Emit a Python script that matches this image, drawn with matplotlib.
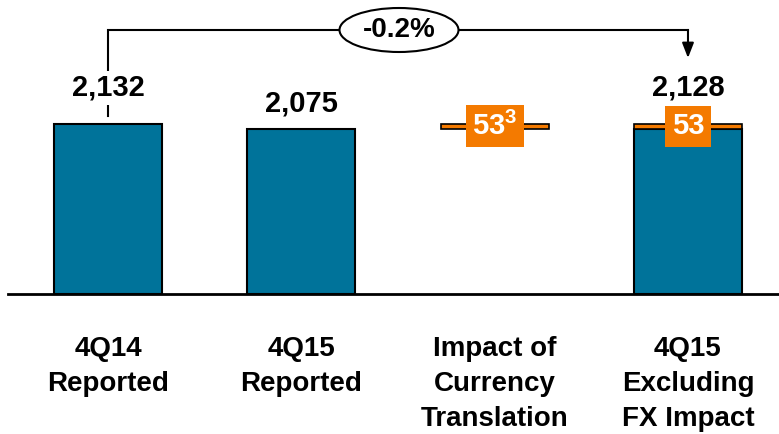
import matplotlib
matplotlib.use("Agg")
import matplotlib.pyplot as plt
from matplotlib.patches import Ellipse
from matplotlib import font_manager

names = {f.name for f in font_manager.fontManager.ttflist}
narrow = 'Liberation Sans Narrow' if 'Liberation Sans Narrow' in names else 'Liberation Sans'

plt.rcParams['mathtext.fontset'] = 'custom'
plt.rcParams['mathtext.bf'] = 'Liberation Sans:bold'
plt.rcParams['mathtext.rm'] = 'Liberation Sans:bold'

categories = ["4Q14\nReported", "4Q15\nReported", "Impact of\nCurrency\nTranslation", "4Q15\nExcluding\nFX Impact"]
base_values = [2132, 2075, 2075, 2075]
fx_impact = 53
total_labels = ["2,132", "2,075", None, "2,128"]
change_label = "-0.2%"

BLUE = "#00739A"
ORANGE = "#F47A00"

W, H = 779, 434
fig = plt.figure(figsize=(W / 100, H / 100), dpi=100)
ax = fig.add_axes([8 / W, 140 / H, 771 / W, 294 / H])
pxu = 170 / 2132.0
ax.set_ylim(0, 294 / pxu)
ax.set_xlim(-100 / 193.33, 671 / 193.33)

x = [0, 1, 2, 3]
bw = 108 / 193.33
# blue bars
ax.bar([0, 1, 3], [base_values[0], base_values[1], base_values[3]], width=bw,
       color=BLUE, edgecolor="black", linewidth=1.5, zorder=2)
# fx impact floating bars
ax.bar([2, 3], [fx_impact, fx_impact], bottom=[base_values[2], base_values[3]], width=bw,
       color=ORANGE, edgecolor="black", linewidth=1.2, zorder=3)

for s in ["top", "right", "left"]:
    ax.spines[s].set_visible(False)
ax.spines["bottom"].set_linewidth(2)
ax.set_yticks([])
ax.set_xticks(x)
ax.set_xticklabels(categories, fontsize=20, fontweight="bold", family=narrow, linespacing=1.45)
ax.tick_params(axis="x", length=0, pad=30)

label_y = [88, 103, None, 88]
for i in range(4):
    if total_labels[i]:
        yv = (294 - label_y[i]) / pxu
        ax.text(x[i], yv, total_labels[i], ha="center", va="center", fontsize=21,
                fontweight="bold", family="Liberation Sans", zorder=6,
                bbox=dict(boxstyle="square,pad=0.1", fc="white", ec="none"))

# orange labels
mid = base_values[2] + fx_impact / 2
ax.text(2, mid, r"$\mathbf{53^{3}}$", ha="center", va="center", fontsize=21, color="white",
        zorder=7, bbox=dict(boxstyle="square,pad=0.22", fc=ORANGE, ec="none"))
ax.text(3, mid, "53", ha="center", va="center", fontsize=21, color="white", fontweight="bold",
        family="Liberation Sans", zorder=7,
        bbox=dict(boxstyle="square,pad=0.22", fc=ORANGE, ec="none"))

# bracket
yb = (294 - 30) / pxu
ax.plot([0, 0, 3, 3], [(294 - 116) / pxu, yb, yb, yb], color="black", lw=1.5,
        clip_on=False, zorder=4, solid_joinstyle="miter")
ax.annotate("", xy=(3, (294 - 58) / pxu), xytext=(3, yb + 1),
            arrowprops=dict(arrowstyle="-|>,head_width=0.35,head_length=0.9", color="black", lw=1.5,
                            shrinkA=0, shrinkB=0), annotation_clip=False, zorder=4)

ell = Ellipse((399 / W, 1 - 30 / H), 119 / W, 44 / H, transform=fig.transFigure,
              fc="white", ec="black", lw=1.5, zorder=10)
fig.add_artist(ell)
fig.text(399 / W, 1 - 30 / H, change_label, ha="center", va="center", fontsize=20,
         fontweight="bold", family=narrow, zorder=11)

fig.savefig("out.png", dpi=100)
